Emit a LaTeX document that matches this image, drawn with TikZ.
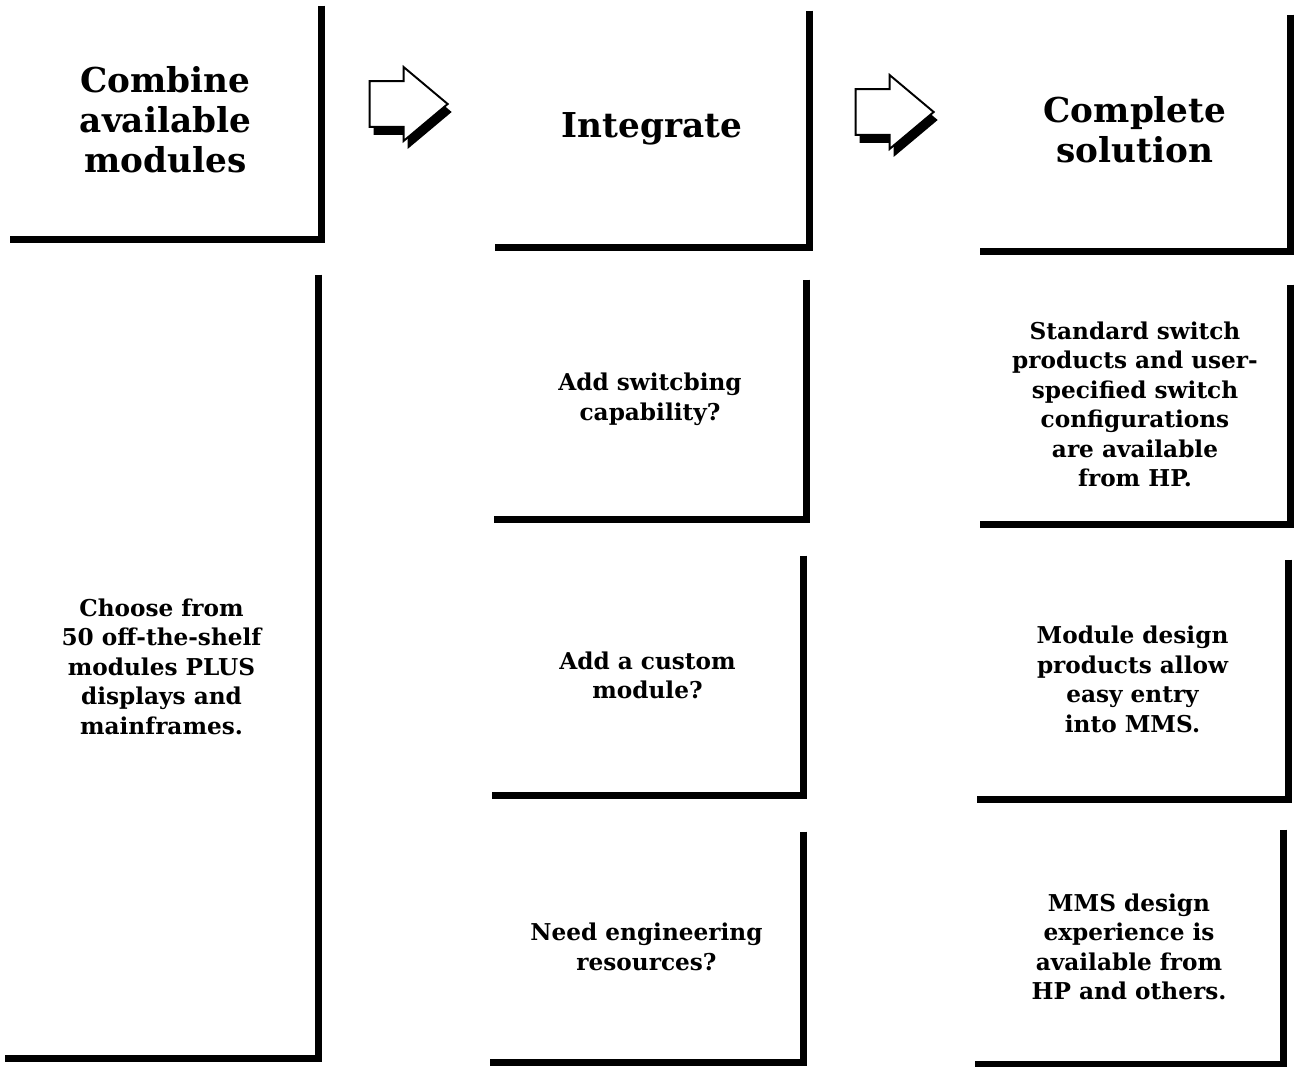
\documentclass[tikz,border=0pt]{standalone}
\usepackage{fontspec}
\setmainfont{DejaVu Serif}
\usetikzlibrary{shapes.arrows,shadows,fit}

\begin{document}
\begin{tikzpicture}[x=0.02cm, y=-0.02cm,
  panel/.style={inner sep=0pt},
  headtext/.style={align=center, inner sep=0pt, font=\bfseries\fontsize{19.5}{22.7}\selectfont},
  bodytext/.style={align=center, inner sep=0pt, font=\bfseries\fontsize{13.2}{16.8}\selectfont},
  frame/.style={line width=4pt},
  goarrow/.style={single arrow, draw, line width=1.1pt, fill=white,
    minimum height=1.56cm, inner xsep=0pt, inner ysep=0.44cm,
    single arrow head extend=0.28cm, single arrow tip angle=80,
    drop shadow={shadow xshift=0.08cm, shadow yshift=-0.16cm, fill=black, opacity=1}}]
  \useasboundingbox (0,0) rectangle (1294,1067);

  % Combine column
  \node[panel, fit={(10,6) (321,239)}] (combine) {};
  \node[panel, fit={(5,275) (318,1058)}] (choose) {};

  % Integrate column
  \node[panel, fit={(495,11) (809,247)}] (integrate) {};
  \node[panel, fit={(494,280) (806,519)}] (switching) {};
  \node[panel, fit={(492,556) (803,795)}] (custom) {};
  \node[panel, fit={(490,832) (803,1062)}] (engineering) {};

  % Solution column
  \node[panel, fit={(980,15) (1290,251)}] (solution) {};
  \node[panel, fit={(980,285) (1290,524)}] (switchprod) {};
  \node[panel, fit={(977,560) (1288,799)}] (moddesign) {};
  \node[panel, fit={(975,830) (1283,1064)}] (experience) {};

  % Frames
  \foreach \n in {combine,choose,integrate,switching,custom,engineering,solution,switchprod,moddesign,experience}
    \draw[frame] (\n.north east) -- (\n.south east) -- (\n.south west);

  % Texts
  \node[headtext] (combinetext) at ([yshift=0.06cm]combine.center) {Combine\\available\\modules};
  \node[headtext] (integratetext) at (integrate.center) {Integrate};
  \node[headtext] (solutiontext) at ([yshift=0.06cm]solution.center) {Complete\\solution};
  \node[bodytext] (choosetext) at (choose.center) {Choose from\\50 off-the-shelf\\modules PLUS\\displays and\\mainframes.};
  \node[bodytext] (switchingtext) at (switching.center) {Add switcbing\\capability?};
  \node[bodytext] (customtext) at (custom.center) {Add a custom\\module?};
  \node[bodytext] (engineeringtext) at (engineering.center) {Need engineering\\resources?};
  \node[bodytext] (switchprodtext) at (switchprod.center) {Standard switch\\products and user-\\specified switch\\configurations\\are available\\from HP.};
  \node[bodytext] (moddesigntext) at (moddesign.center) {Module design\\products allow\\easy entry\\into MMS.};
  \node[bodytext] (experiencetext) at (experience.center) {MMS design\\experience is\\available from\\HP and others.};

  % Arrows
  \node[goarrow] (arrowone) at (395,104) {};
  \node[goarrow] (arrowtwo) at (881,112) {};

\end{tikzpicture}
\end{document}
